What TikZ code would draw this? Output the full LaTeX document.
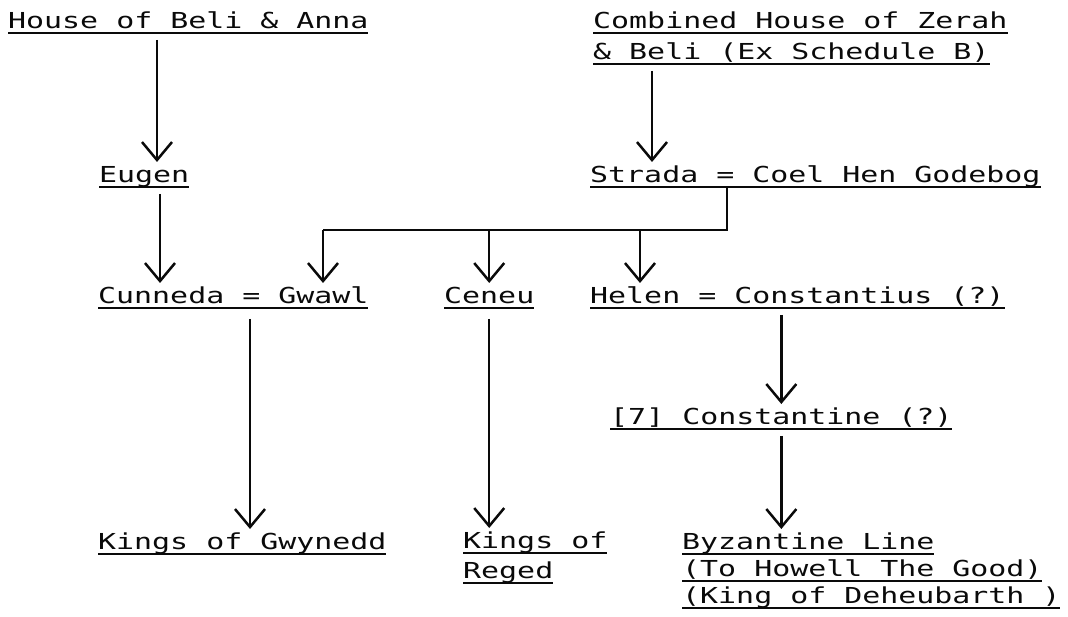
\documentclass[tikz,border=0pt]{standalone}
\usepackage{fontspec}
\usepackage{tikz}
\usetikzlibrary{positioning, calc, arrows.meta}
\newfontfamily\typefont[FakeStretch=1.36]{DejaVu Sans Mono}
\definecolor{inkBlack}{RGB}{10, 10, 10}
% underlined typewriter line, with a fixed strut on top
\newcommand{\ulline}[1]{\setbox0=\hbox{#1}\vrule height 20pt depth 0pt width 0pt\rlap{\rule[-5.5pt]{\wd0}{1.6pt}}\box0}

\begin{document}
\begin{tikzpicture}[x=1pt, y=-1pt,
  person/.style={anchor=north west, inner sep=0pt, align=left, text=inkBlack,
    font=\typefont\fontsize{22pt}{30pt}\selectfont},
  descent/.style={draw=inkBlack, line width=2.5pt, shorten <=6pt,
    -{Straight Barb[length=18pt, width=30pt, line width=2.5pt]}},
  branch/.style={draw=inkBlack, line width=2.5pt}]
  \useasboundingbox (0,0) rectangle (1068,617);

  % Ancestral houses
  \node[person] (house) at (8, 8) {\ulline{House of Beli \& Anna}};
  \node[person, font=\typefont\fontsize{22pt}{31pt}\selectfont] (zerah) at (593, 8)
    {\ulline{Combined House of Zerah}\\\ulline{\& Beli (Ex Schedule B)}};

  % Second generation
  \node[person] (eugen) at (99, 162) {\ulline{Eugen}};
  \node[person] (strada) at (590, 162) {\ulline{Strada = Coel Hen Godebog}};

  % Children of Coel
  \node[person] (cunneda) at (98, 283) {\ulline{Cunneda = Gwawl}};
  \node[person] (ceneu) at (444, 283) {\ulline{Ceneu}};
  \node[person] (helen) at (590, 283) {\ulline{Helen = Constantius (?)}};
  \node[person] (constantine) at (610, 404) {\ulline{[7] Constantine (?)}};

  % Lines of descent
  \node[person] (gwynedd) at (98, 529) {\ulline{Kings of Gwynedd}};
  \node[person] (reged) at (463, 528) {\ulline{Kings of}\\\ulline{Reged}};
  \node[person, font=\typefont\fontsize{22pt}{27pt}\selectfont] (byzantine) at (682, 529)
    {\ulline{Byzantine Line}\\\ulline{(To Howell The Good)}\\\ulline{(King of Deheubarth )}};

  % Arrows
  \coordinate (houseleg) at ([xshift=149pt]house.south west);
  \draw[descent] (houseleg) -- (houseleg |- eugen.north);
  \coordinate (zerahleg) at ([xshift=59pt]zerah.south west);
  \draw[descent] (zerahleg) -- (zerahleg |- strada.north);
  \coordinate (eugenleg) at ([xshift=61pt]eugen.south west);
  \draw[descent] (eugenleg) -- (eugenleg |- cunneda.north);

  % Fork below Strada
  \coordinate (bar) at (0, 230);
  \coordinate (stradaleg) at ([xshift=137pt]strada.south west);
  \coordinate (gwawl) at ([xshift=225pt]cunneda.north west);
  \coordinate (helenx) at ([xshift=50pt]helen.north west);
  \draw[branch] (stradaleg) |- (bar -| gwawl);
  \foreach \target in {gwawl, ceneu.north, helenx}
    \draw[descent, shorten <=0pt] (bar -| \target) -- (\target);

  \coordinate (cunnedaleg) at ([xshift=152pt]cunneda.south west);
  \draw[descent, shorten <=10pt] (cunnedaleg) -- (cunnedaleg |- gwynedd.north);
  \draw[descent, shorten <=10pt] (ceneu.south) -- (ceneu.south |- reged.north);
  \draw[descent] (constantine.north |- helen.south) -- (constantine.north);
  \draw[descent] (constantine.south) -- (constantine.south |- byzantine.north);
\end{tikzpicture}
\end{document}
